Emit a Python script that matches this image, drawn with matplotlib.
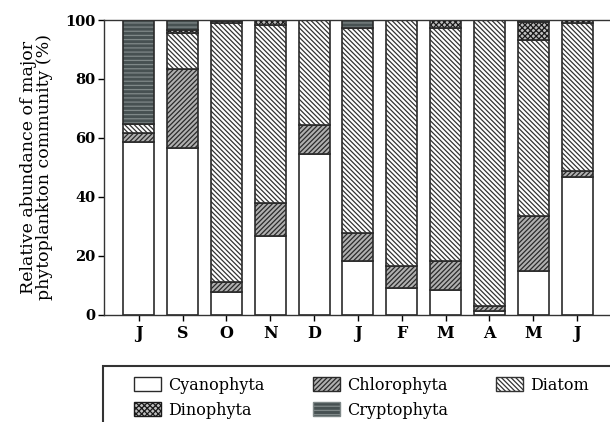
import matplotlib.pyplot as plt
import matplotlib.patches as mpatches
import numpy as np

plt.rcParams['font.family'] = ['DejaVu Serif']
plt.rcParams['hatch.linewidth'] = 0.9

months = ['J', 'S', 'O', 'N', 'D', 'J', 'F', 'M', 'A', 'M', 'J']
cyanophyta = [58.7, 56.5, 7.7, 26.8, 54.6, 18.3, 9.0, 8.5, 1.5, 14.9, 46.9]
chlorophyta = [2.9, 26.8, 3.6, 11.1, 9.8, 9.6, 7.7, 9.9, 1.5, 18.7, 2.0]
diatom = [3.1, 12.2, 87.8, 60.4, 35.6, 69.5, 83.3, 78.8, 97.0, 59.6, 50.2]
dinophyta = [0.0, 1.0, 0.5, 1.7, 0.0, 0.0, 0.0, 2.8, 0.0, 6.2, 0.9]
cryptophyta = [35.3, 3.5, 0.4, 0.0, 0.0, 2.6, 0.0, 0.0, 0.0, 0.6, 0.0]

names = ['Cyanophyta', 'Chlorophyta', 'Diatom', 'Dinophyta', 'Cryptophyta']
series = [cyanophyta, chlorophyta, diatom, dinophyta, cryptophyta]
fills = ['white', '#b0b0b0', 'white', '#c0c0c0', '#475152']
hatches = [None, '///////', '\\\\\\\\\\\\\\', 'xxxxxx', '----']
hatch_cols = ['#2a2a2a', '#2a2a2a', '#333333', '#1a1a1a', '#7f8888']

fig = plt.figure(figsize=(6.1, 4.22), dpi=100)
ax = fig.add_axes([0.1705, 0.2536, 0.8275, 0.699])

x = np.arange(len(months))
w = 0.71
bottom = np.zeros(len(months))
for name, vals, fc, h, hc in zip(names, series, fills, hatches, hatch_cols):
    vals = np.array(vals)
    ax.bar(x, vals, w, bottom=bottom, color=fc, edgecolor=hc, hatch=h, linewidth=0)
    ax.bar(x, vals, w, bottom=bottom, fill=False, edgecolor='#2a2a2a', linewidth=1.2)
    bottom += vals

leg_h = []
for name, fc, h, hc in zip(names, fills, hatches, hatch_cols):
    leg_h.append(mpatches.Patch(facecolor=fc, edgecolor=hc if h else '#2a2a2a', hatch=h,
                                linewidth=1.0))

ax.set_xlim(-0.79, 10.72)
ax.set_ylim(0, 100)
ax.set_xticks(x)
ax.set_xticklabels(months, fontsize=11.5, fontweight='bold')
ax.set_yticks([0, 20, 40, 60, 80, 100])
ax.set_yticklabels(['0', '20', '40', '60', '80', '100'], fontsize=10.5, fontweight='bold')
ax.tick_params(axis='x', length=4, width=1, pad=3)
ax.tick_params(axis='y', length=4, width=1, pad=2)
ax.spines['right'].set_visible(False)
for s in ['left', 'bottom', 'top']:
    ax.spines[s].set_linewidth(1.0)
    ax.spines[s].set_color('#333333')
ax.set_ylabel('Relative abundance of major\nphytoplankton community (%)', fontsize=12.5,
              labelpad=9, linespacing=0.95)

order = [0, 3, 1, 4, 2]
fig.legend([leg_h[i] for i in order], [names[i] for i in order], ncol=3,
           loc='upper left', bbox_to_anchor=(0.2066, 0.126), frameon=False,
           fontsize=11.5, handlelength=1.7, handleheight=1.0, handletextpad=0.45,
           columnspacing=3.0, labelspacing=0.5, borderpad=0)

box = mpatches.Rectangle((103 / 610, -0.1), 0.84, 0.2327, transform=fig.transFigure,
                         fill=False, edgecolor='#333333', linewidth=1.5)
fig.patches.append(box)

fig.savefig('out.png', dpi=100)
